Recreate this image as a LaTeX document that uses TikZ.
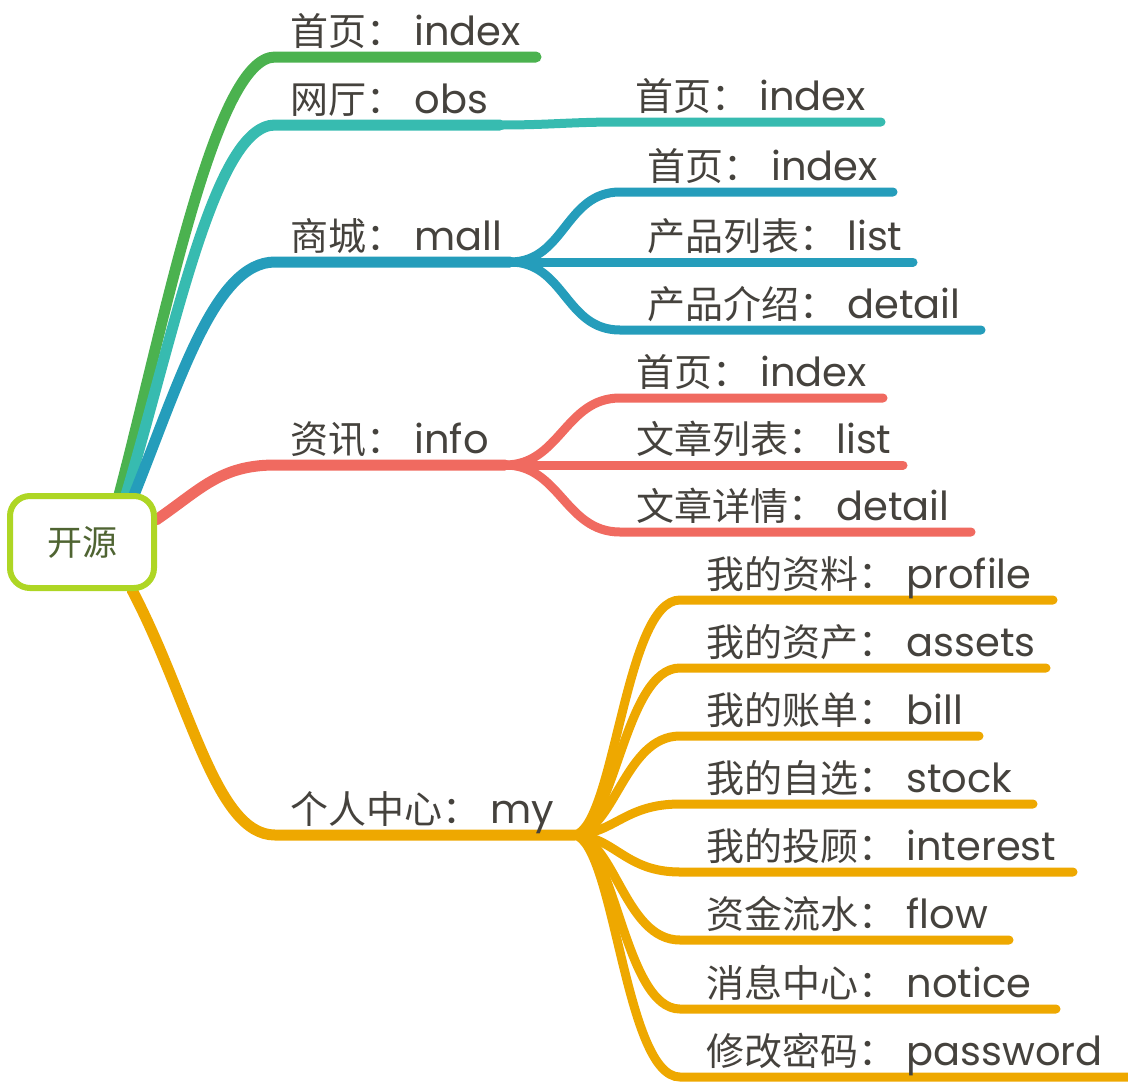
\documentclass[tikz,border=0pt]{standalone}
\usepackage{fontspec}
\setmainfont{Poppins}
\newfontfamily\cjk{Noto Sans CJK SC}
\usepackage{tikz}
\usetikzlibrary{positioning}
\definecolor{MapGreen}{RGB}{75,178,79}
\definecolor{MapTeal}{RGB}{55,187,176}
\definecolor{MapBlue}{RGB}{37,157,187}
\definecolor{MapRed}{RGB}{240,106,96}
\definecolor{MapOrange}{RGB}{238,168,0}
\definecolor{MapLime}{RGB}{174,214,36}
\definecolor{RootText}{RGB}{79,100,50}
\definecolor{TextGrey}{RGB}{69,66,61}
\newcommand{\zh}[1]{{\cjk #1}\hspace{5pt}\fontsize{20}{22}\selectfont}

\begin{document}
\begin{tikzpicture}[
  x=0.5pt, y=-0.5pt,
  branch/.style={line width=5.5pt, line cap=round},
  twig/.style={line width=4.5pt, line cap=round},
  leaf/.style={anchor=base west, inner sep=0pt, text=TextGrey, font=\fontsize{19}{22}\selectfont},
  rootbox/.style={draw=MapLime, fill=white, line width=3pt, rounded corners=10pt,
    minimum width=72pt, minimum height=46pt, text=RootText, font=\fontsize{17.5}{20}\selectfont},
]
\useasboundingbox (0,0) rectangle (1128,1088);

% Start points under the root box
\coordinate (rootG) at (119,495);
\coordinate (rootT) at (126,495);
\coordinate (rootB) at (134,495);
\coordinate (rootR) at (156,520);
\coordinate (rootO) at (132,590);

% Branch: index
\coordinate (index) at (275,57);
\coordinate (index-end) at (536,57);
\draw[branch, MapGreen] (rootG) .. controls +(46,-175) and +(-60,0) .. (index) -- (index-end);
\node[leaf] (lbl-index) at (290,45) {\zh{首页：}index};

% Branch: obs
\coordinate (obs) at (275,125);
\coordinate (obs-fork) at (500,125);
\coordinate (obs-index) at (620,122);
\coordinate (obs-index-end) at (881,122);
\draw[branch, MapTeal] (rootT) .. controls +(49,-165) and +(-60,0) .. (obs) -- (obs-fork);
\draw[twig, MapTeal] (obs-fork) .. controls +(50,0) and +(-50,0) .. (obs-index) -- (obs-index-end);
\node[leaf] (lbl-obs) at (290,113) {\zh{网厅：}obs};
\node[leaf] (lbl-obs-index) at (635,110) {\zh{首页：}index};

% Branch: mall
\coordinate (mall) at (275,262);
\coordinate (mall-fork) at (510,262);
\coordinate (mall-index) at (620,192);
\coordinate (mall-detail) at (620,330);
\coordinate (mall-index-end) at (893,192);
\coordinate (mall-list-end) at (913,262);
\coordinate (mall-detail-end) at (981,330);
\draw[branch, MapBlue] (rootB) .. controls +(46,-115) and +(-60,0) .. (mall) -- (mall-fork);
\draw[twig, MapBlue] (mall-fork) .. controls +(55,0) and +(-55,0) .. (mall-index) -- (mall-index-end);
\draw[twig, MapBlue] (mall-fork) -- (mall-list-end);
\draw[twig, MapBlue] (mall-fork) .. controls +(55,0) and +(-55,0) .. (mall-detail) -- (mall-detail-end);
\node[leaf] (lbl-mall) at (290,250) {\zh{商城：}mall};
\node[leaf] (lbl-mall-index) at (647,180) {\zh{首页：}index};
\node[leaf] (lbl-mall-list) at (647,250) {\zh{产品列表：}list};
\node[leaf] (lbl-mall-detail) at (647,318) {\zh{产品介绍：}detail};

% Branch: info
\coordinate (info) at (275,465);
\coordinate (info-fork) at (505,465);
\coordinate (info-index) at (620,398);
\coordinate (info-detail) at (620,532);
\coordinate (info-index-end) at (883,398);
\coordinate (info-list-end) at (903,465);
\coordinate (info-detail-end) at (971,532);
\draw[branch, MapRed] (rootR) .. controls +(44,-30) and +(-55,0) .. (info) -- (info-fork);
\draw[twig, MapRed] (info-fork) .. controls +(55,0) and +(-55,0) .. (info-index) -- (info-index-end);
\draw[twig, MapRed] (info-fork) -- (info-list-end);
\draw[twig, MapRed] (info-fork) .. controls +(55,0) and +(-55,0) .. (info-detail) -- (info-detail-end);
\node[leaf] (lbl-info) at (290,453) {\zh{资讯：}info};
\node[leaf] (lbl-info-index) at (636,386) {\zh{首页：}index};
\node[leaf] (lbl-info-list) at (636,453) {\zh{文章列表：}list};
\node[leaf] (lbl-info-detail) at (636,520) {\zh{文章详情：}detail};

% Branch: my
\coordinate (my) at (275,835);
\coordinate (my-fork) at (575,835);
\coordinate (my-profile) at (680,600);
\coordinate (my-assets) at (680,668);
\coordinate (my-bill) at (680,736);
\coordinate (my-stock) at (680,804);
\coordinate (my-interest) at (680,872);
\coordinate (my-flow) at (680,940);
\coordinate (my-notice) at (680,1009);
\coordinate (my-password) at (680,1077);
\draw[branch, MapOrange] (rootO) .. controls +(58,110) and +(-60,0) .. (my) -- (my-fork);
\draw[twig, MapOrange] (my-fork) .. controls +(40,-10) and +(-55,0) .. (my-profile) -- +(373,0);
\draw[twig, MapOrange] (my-fork) .. controls +(40,-8) and +(-55,0) .. (my-assets) -- +(366,0);
\draw[twig, MapOrange] (my-fork) .. controls +(40,-5) and +(-55,0) .. (my-bill) -- +(299,0);
\draw[twig, MapOrange] (my-fork) .. controls +(40,-2) and +(-55,0) .. (my-stock) -- +(353,0);
\draw[twig, MapOrange] (my-fork) .. controls +(40,2) and +(-55,0) .. (my-interest) -- +(393,0);
\draw[twig, MapOrange] (my-fork) .. controls +(40,5) and +(-55,0) .. (my-flow) -- +(329,0);
\draw[twig, MapOrange] (my-fork) .. controls +(40,8) and +(-55,0) .. (my-notice) -- +(376,0);
\draw[twig, MapOrange] (my-fork) .. controls +(40,10) and +(-55,0) .. (my-password) -- +(450,0);
\node[leaf] (lbl-my) at (290,823) {\zh{个人中心：}my};
\node[leaf] (lbl-profile) at (706,588) {\zh{我的资料：}profile};
\node[leaf] (lbl-assets) at (706,656) {\zh{我的资产：}assets};
\node[leaf] (lbl-bill) at (706,724) {\zh{我的账单：}bill};
\node[leaf] (lbl-stock) at (706,792) {\zh{我的自选：}stock};
\node[leaf] (lbl-interest) at (706,860) {\zh{我的投顾：}interest};
\node[leaf] (lbl-flow) at (706,928) {\zh{资金流水：}flow};
\node[leaf] (lbl-notice) at (706,997) {\zh{消息中心：}notice};
\node[leaf] (lbl-password) at (706,1065) {\zh{修改密码：}password};

% Root
\node[rootbox] (root) at (82,542) {\cjk 开源};

\end{tikzpicture}
\end{document}
